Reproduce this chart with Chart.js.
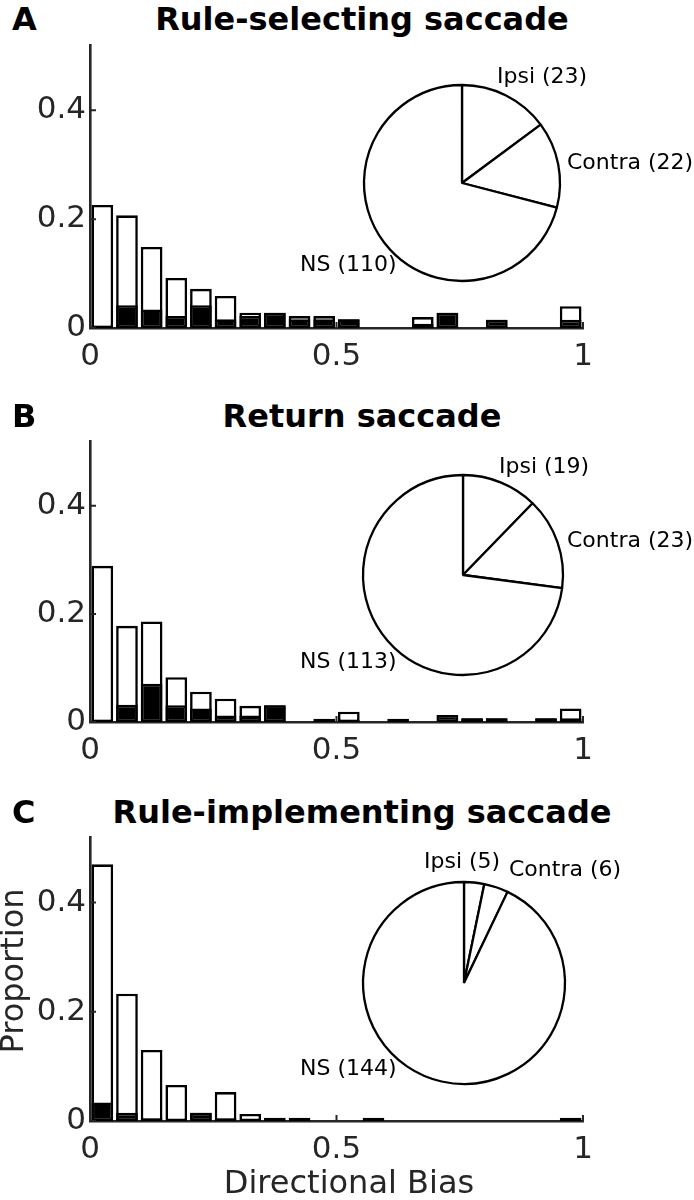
<!DOCTYPE html>
<html><head><meta charset="utf-8">
<script src="https://cdn.jsdelivr.net/npm/chart.js@4.4.1/dist/chart.umd.min.js"></script>
<style>
html,body{margin:0;padding:0;background:#fff;}
#fig{position:relative;width:694px;height:1200px;overflow:hidden;font-family:"DejaVu Sans",sans-serif;background:#fff;}
canvas{position:absolute;}
.t{position:absolute;white-space:nowrap;line-height:1;}
.bold{font-weight:bold;font-size:32px;color:#000;}
.ttl{transform:translateX(-50%);}
.pl{font-size:22px;color:#000;transform:translateY(-50%);}
.ax{font-size:32px;color:#262626;}
</style></head><body><div id="fig">
<canvas id="barA" width="694" height="340" style="left:0;top:40px"></canvas>
<canvas id="barB" width="694" height="340" style="left:0;top:436px"></canvas>
<canvas id="barC" width="694" height="368" style="left:0;top:832px"></canvas>
<canvas id="pieA" width="230" height="230" style="left:347px;top:68px"></canvas>
<canvas id="pieB" width="230" height="230" style="left:348px;top:460px"></canvas>
<canvas id="pieC" width="230" height="230" style="left:349px;top:868px"></canvas>
</div>
<script>
// ---------- data ----------
const binCenters = [0.025,0.075,0.125,0.175,0.225,0.275,0.325,0.375,0.425,0.475,
                    0.525,0.575,0.625,0.675,0.725,0.775,0.825,0.875,0.925,0.975];
const xTickValues = [0, 0.5, 1];
const yTickValues = [0, 0.2, 0.4];

const panelLetters = ['A','B','C'];
const panelTitles = ['Rule-selecting saccade','Return saccade','Rule-implementing saccade'];

// Panel A: rule-selecting saccade
const ruleSelAll = [0.226,0.207,0.149,0.092,0.072,0.059,0.028,0.028,0.022,0.022,
                    0.016,0,0,0.020,0.028,0,0.015,0,0,0.040];
const ruleSelSig = [0.004,0.042,0.034,0.022,0.042,0.016,0.022,0.028,0.016,0.016,
                    0.016,0,0,0.008,0.028,0,0.015,0,0,0.015];
// Panel B: return saccade
const returnAll = [0.289,0.178,0.186,0.083,0.056,0.043,0.030,0.031,0,0.006,
                   0.019,0,0.006,0,0.013,0.007,0.007,0,0.007,0.025];
const returnSig = [0.004,0.032,0.071,0.031,0.025,0.012,0.012,0.031,0,0,
                   0.004,0,0,0,0.013,0.007,0.007,0,0.007,0.007];
// Panel C: rule-implementing saccade
const ruleImpAll = [0.470,0.233,0.130,0.066,0.015,0.053,0.013,0.006,0.006,0,
                    0,0.006,0,0,0,0,0,0,0,0.006];
const ruleImpSig = [0.034,0.015,0.005,0,0.015,0.005,0,0,0,0,
                    0,0,0,0,0,0,0,0,0,0];

const pieLabels = ['Ipsi','Contra','NS'];
const ruleSelPie = [23,22,110];
const returnPie  = [19,23,113];
const ruleImpPie = [5,6,144];

const xAxisTitle = 'Directional Bias';
const yAxisTitle = 'Proportion';

// ---------- layout ----------
const AX = '#262626';
const FONT = 'DejaVu Sans';
const fig = document.getElementById('fig');
function addText(txt, cls, css){ const d=document.createElement('div'); d.className='t '+cls; d.textContent=txt; Object.assign(d.style, css); fig.appendChild(d); return d; }

const inTicks = {
  id:'inTicks',
  afterDraw(chart){
    const {ctx, chartArea:a} = chart; const x = chart.scales.x, y = chart.scales.y;
    ctx.save(); ctx.strokeStyle = AX; ctx.lineWidth = 2; ctx.beginPath();
    y.ticks.forEach(t => { const p = y.getPixelForValue(t.value); ctx.moveTo(a.left, p); ctx.lineTo(a.left + 6, p); });
    x.ticks.forEach(t => { const p = x.getPixelForValue(t.value); ctx.moveTo(p, a.bottom); ctx.lineTo(p, a.bottom - 6); });
    ctx.stroke(); ctx.restore();
  }
};

function makeBar(id, all, sig, L){
  const common = {borderColor:'#000', borderWidth:2.6, borderSkipped:false, grouped:false,
                  barPercentage:0.88, categoryPercentage:1};
  return new Chart(document.getElementById(id), {
    type:'bar',
    data:{ datasets:[
      Object.assign({label:'Significant', order:0, backgroundColor:'#000',
        data: binCenters.map((x,i)=>({x, y: sig[i]}))}, common),
      Object.assign({label:'All', order:1, backgroundColor:'#fff',
        data: binCenters.map((x,i)=>({x, y: all[i]}))}, common)
    ]},
    options:{
      responsive:false, animation:false, devicePixelRatio:1, events:[],
      layout:{padding:{top:L.padTop, right:111, left:0, bottom:0}},
      plugins:{legend:{display:false}, tooltip:{enabled:false}},
      scales:{
        x:{type:'linear', min:0, max:1, offset:false,
           grid:{display:false, drawTicks:false},
           border:{display:true, color:AX, width:2.6},
           ticks:{font:{family:FONT, size:31}, color:AX, padding:10, maxRotation:0, autoSkip:false,
                  callback: v => String(v)},
           afterBuildTicks: s => { s.ticks = xTickValues.map(v => ({value:v})); },
           afterFit: s => { s.height = L.xAxisH; s.paddingLeft = 0; s.paddingRight = 0; }},
        y:{type:'linear', min:0, max:0.52,
           grid:{display:false, drawTicks:false},
           border:{display:true, color:AX, width:2.6},
           ticks:{font:{family:FONT, size:31}, color:AX, padding:4, callback: v => String(v)},
           afterBuildTicks: s => { s.ticks = yTickValues.map(v => ({value:v})); },
           afterFit: s => { s.width = 90; s.paddingTop = 0; s.paddingBottom = 0; }}
      }
    },
    plugins:[inTicks]
  });
}

function makePie(id, vals, r){
  return new Chart(document.getElementById(id), {
    type:'pie',
    data:{ labels: pieLabels, datasets:[{ data: vals, backgroundColor:'#fff', borderColor:'#000', borderWidth:2.3, radius:r }]},
    options:{ responsive:false, animation:false, devicePixelRatio:1, events:[],
      layout:{padding:0}, plugins:{legend:{display:false}, tooltip:{enabled:false}} }
  });
}

makeBar('barA', ruleSelAll, ruleSelSig, {padTop:5, xAxisH:52});
makeBar('barB', returnAll,  returnSig,  {padTop:5, xAxisH:54});
makeBar('barC', ruleImpAll, ruleImpSig, {padTop:5, xAxisH:79});
makePie('pieA', ruleSelPie, 98);
makePie('pieB', returnPie, 100);
makePie('pieC', ruleImpPie, 101);

// titles and panel letters
const titleTops = [3, 400, 796];
panelLetters.forEach((l,i) => addText(l, 'bold', {left:'12px', top: titleTops[i]+'px'}));
panelTitles.forEach((t,i) => addText(t, 'bold ttl', {left:'362px', top: titleTops[i]+'px'}));

// pie labels (left edge, vertical middle)
const pieLabelPos = [
  [[497,76],[567,162],[300,264]],
  [[499,466],[567,540],[300,661]],
  [[424,861],[509,869],[300,1068]]
];
[ruleSelPie, returnPie, ruleImpPie].forEach((vals,p) => {
  vals.forEach((v,i) => addText(pieLabels[i] + ' (' + v + ')', 'pl',
    {left: pieLabelPos[p][i][0]+'px', top: pieLabelPos[p][i][1]+'px'}));
});

// axis titles
addText(xAxisTitle, 'ax ttl', {left:'349px', top:'1166px'});
addText(yAxisTitle, 'ax', {left:'12px', top:'971px', transform:'translate(-50%,-50%) rotate(-90deg)'});
</script>
</body></html>
